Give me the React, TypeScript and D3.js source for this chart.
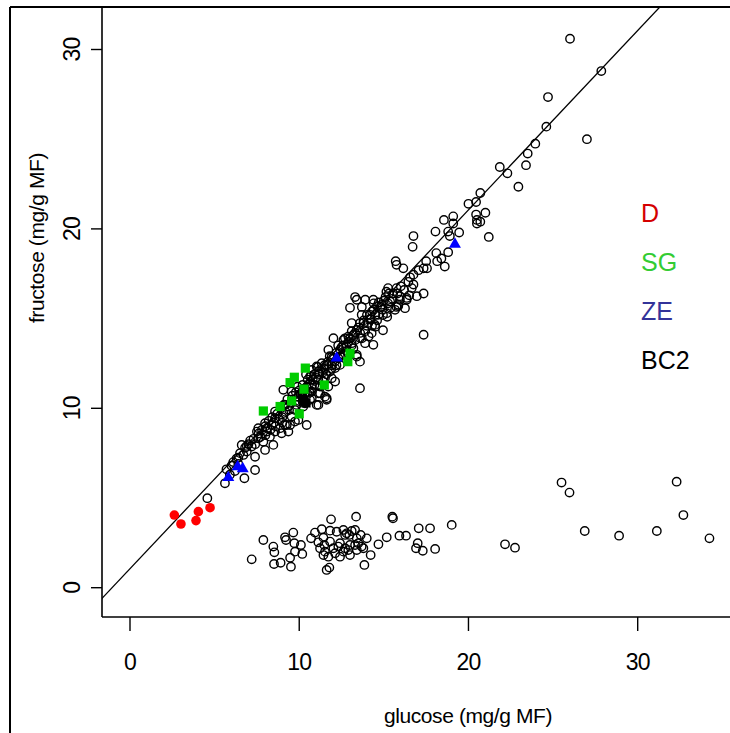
import React from "react";
import * as d3 from "d3";

// glucose, fructose (mg/g MF)
const circlesUpper: [number, number][] = [
  [26.0,30.6],[27.85,28.8],[24.7,27.35],[24.6,25.7],[27.0,25.0],[23.95,24.75],[23.5,24.2],[23.4,23.55],[21.85,23.45],[22.3,23.1],[22.95,22.35],[20.7,22.0],[21.0,20.9],[20.7,20.4],[21.2,19.55],
  [20.0,21.4],[20.45,21.5],[20.45,20.8],[20.5,20.5],[20.5,20.3],[19.1,20.7],[18.55,20.5],[19.1,20.3],[18.05,19.85],[18.8,19.85],[19.45,19.8],[18.9,19.6],[16.75,19.6],[16.7,19.0],[18.8,18.7],[18.4,18.35],[18.1,18.65],[18.15,18.2],[18.6,17.9],[17.5,18.2],[17.35,17.8],[17.55,17.8],[15.7,18.2],[15.75,18.0],[16.15,17.8],[17.05,17.7],[16.75,17.45],[16.55,17.3],[16.45,17.05],[16.75,16.9],[16.65,16.7],[17.35,16.4],[16.95,16.25],[16.35,16.15],[15.95,16.25],[15.75,16.7],[15.25,16.7],[15.15,16.5],[15.55,16.4],[15.95,16.05],[15.75,15.65],[15.25,15.85],[14.8,15.65],[14.4,15.85],[13.9,16.05],[13.7,15.65],[14.4,15.5],[14.95,15.2],[14.0,15.2],[14.2,14.95],[13.8,14.75],[14.5,14.55],[13.9,14.3],[14.1,14.0],[14.95,14.35],[17.35,14.1],[15.85,15.7],
];

const circlesBand: [number, number][] = [
  [13.4,16.05],[14.38,16.05],[14.87,15.77],[15.37,15.95],[15.86,15.77],[15.66,15.49],[15.17,15.3],[14.68,15.21],[14.18,15.21],[13.69,15.21],[13.59,14.75],[14.08,14.75],[14.48,14.65],[13.1,14.75],[13.4,14.37],[14.28,14.19],[13.2,14.09],[12.9,14.0],[13.59,13.91],[13.89,13.63],[14.38,13.54],[12.61,13.81],[13.1,13.63],[12.02,13.91],[12.8,13.44],[12.41,13.26],[12.9,13.07],[11.72,13.26],[11.92,12.88],[12.31,12.79],[13.4,12.88],[13.59,12.6],[11.33,12.51],[11.62,12.42],[11.03,12.33],[10.74,12.14],[11.13,12.05],[11.82,12.05],[12.12,12.24],[12.41,12.42],[10.64,11.77],[11.13,11.58],[11.52,11.68],[11.92,11.68],[12.12,11.49],[11.72,11.21],[10.74,11.3],[10.44,11.21],[10.34,10.84],[10.74,10.93],[11.13,10.84],[11.52,10.65],[11.62,10.47],[11.03,10.19],[10.64,10.47],[9.95,10.65],[9.55,10.93],[9.36,10.1],[9.75,9.91],[10.24,10.1],[9.95,9.35],[10.44,9.07],[9.26,9.07],[13.59,11.12],[13.4,12.98],[16.35,16.05],[16.25,15.58],[13.2,13.35],
  [4.57,4.99],[5.61,5.82],[6.76,6.1],[7.39,6.56],[6.4,7.25],[6.6,7.96],[6.9,7.59],[7.39,7.3],[7.19,7.87],[7.58,8.33],[7.98,7.68],[7.88,8.14],[8.47,7.96],[7.58,8.89],[8.08,8.7],[8.27,8.42],[8.57,8.7],[7.98,9.17],[8.37,9.07],[8.87,8.89],[8.57,9.45],[9.16,9.07],[9.36,8.7],[8.96,8.61],[8.57,9.82],[9.06,9.73],[9.55,9.54],[9.75,9.26],[9.46,9.07],[9.16,10.19],[9.06,11.03],[9.85,10.19],[10.34,10.28],[10.74,10.56],[11.13,10.19],[11.62,10.56],[11.23,10.84],[10.74,11.12],[11.23,11.21],[10.05,10.75],
  [13.3,16.2],[13.0,15.6],
  [9.6,10.7],[9.8,10.9],[10.0,11.0],[10.2,11.3],[10.5,11.6],[10.6,11.4],[10.9,11.9],[11.0,11.7],[11.3,12.2],[11.4,12.0],[11.7,12.6],[11.9,12.4],[12.0,12.8],[12.2,13.1],[12.5,13.4],[12.6,13.0],[12.9,13.7],[13.0,13.9],[13.3,14.2],[13.5,14.5],[13.8,14.9],[14.0,14.6],[14.3,15.4],[14.6,15.7],[15.0,16.0],[15.3,16.4],[8.0,9.0],[8.2,9.3],[8.4,9.5],[8.7,9.7],[8.9,10.0],[9.1,10.2],[9.3,10.5],[9.5,10.3],[7.0,8.0],[7.3,8.3],[7.6,8.6],[7.8,8.8],[6.8,7.8],[6.5,7.5],[10.1,10.8],[10.3,11.1],[10.8,11.6],[11.1,12.3],[11.5,12.4],[11.8,12.9],[12.3,13.5],[12.7,13.9],[13.1,14.3],[9.9,11.2],[10.4,11.9],[6.1,7.0],[6.2,6.5],[5.9,6.3],
  [7.1,8.2],[7.4,8.0],[7.7,8.4],[8.1,8.9],[8.3,8.8],[8.5,9.2],[8.8,9.4],[9.0,9.5],[9.2,9.8],[9.4,9.9],[7.5,8.7],[8.0,8.5],[8.6,9.0],[9.0,9.2],
  [10.0,10.4],[10.2,10.9],[10.5,10.8],[10.7,11.8],[10.9,11.3],[11.2,11.9],[11.5,12.2],[11.6,11.9],[11.9,12.2],[12.1,12.6],[12.4,12.9],[12.6,13.5],[12.8,13.2],[13.1,13.5],[13.3,13.8],[13.6,14.2],[13.7,13.9],[12.2,12.4],[11.4,11.5],[10.6,10.9],
  [14.2,15.0],[14.5,15.2],[14.7,15.9],[14.9,15.5],[15.1,16.2],[15.4,15.6],[15.5,16.1],[15.8,16.4],[16.0,16.8],[16.2,16.6],[16.5,16.3],[14.6,14.9],[14.3,14.6],[15.2,15.1],
  [5.7,6.6],[6.0,6.8],[6.3,7.2],[6.7,7.4],[6.9,7.9],[6.4,6.9],
];

const circlesLow: [number, number][] = [
  [7.19,1.58],[7.88,2.66],[8.47,2.29],[8.53,1.97],[8.51,1.32],[8.9,1.39],[9.51,1.17],[9.46,1.67],[9.16,2.81],[9.22,2.66],[9.65,3.07],[9.71,2.48],[9.75,2.01],[10.1,2.38],[10.18,1.88],[10.7,2.75],[10.93,3.07],[11.33,3.26],[11.13,2.53],[11.43,2.79],[11.88,3.81],[11.82,3.18],[12.21,3.12],[11.48,2.38],[11.82,2.57],[11.52,2.01],[11.43,1.82],[11.72,1.73],[11.78,1.12],[11.62,0.99],[12.02,2.2],[12.31,2.29],[12.41,2.48],[12.61,3.22],[12.8,3.03],[12.96,2.94],[12.71,2.2],[12.61,2.01],[13.0,2.38],[12.9,2.1],[13.36,3.96],[13.3,3.22],[13.4,2.75],[13.3,2.38],[13.4,2.1],[13.49,2.48],[13.63,2.94],[13.69,2.29],[13.79,2.2],[13.99,2.75],[13.85,1.27],[14.22,1.82],[14.68,2.42],[15.17,2.81],[15.5,3.96],[15.54,3.87],[15.92,2.9],[16.31,2.9],[16.9,2.2],[17.0,2.48],[17.3,2.06],[17.06,3.31],[17.73,3.31],[18.03,2.16],[19.01,3.5],[11.23,2.2],[12.12,1.92],[12.41,1.73],[13.0,1.82],[12.71,2.94],[13.1,3.16],
  [25.5,5.86],[25.97,5.3],[22.16,2.42],[22.75,2.23],[26.87,3.16],[28.9,2.9],[31.13,3.16],[32.3,5.91],[32.7,4.05],[34.24,2.75],
];

const pointsD: [number, number][] = [[2.62,4.05],[3.01,3.55],[4.04,4.24],[3.9,3.74],[4.73,4.46]];
const pointsSG: [number, number][] = [[7.88,9.85],[8.87,10.1],[9.55,10.41],[10.0,9.69],[10.28,11.07],[9.46,11.43],[9.71,11.73],[10.36,12.24],[11.48,11.3],[13.0,13.07],[12.87,12.6]];
const pointsZE: [number, number][] = [[5.81,6.19],[6.36,6.8],[6.66,6.69],[12.21,12.85],[19.2,19.2]];
const pointsBC2: [number, number][] = [[10.2,10.5],[10.4,10.3]];

const lineCoef = { intercept: 1.06, slope: 1.0 };
const xTicks = [0, 10, 20, 30];
const yTicks = [0, 10, 20, 30];
const legendItems = [
  { label: "D", color: "#d40000" },
  { label: "SG", color: "#33cc33" },
  { label: "ZE", color: "#333399" },
  { label: "BC2", color: "#000000" },
];

export default function App() {
  const W = 730, H = 733;
  const plotLeft = 102, plotBottom = 617, frameTop = 7, frameLeft = 10;
  const x = d3.scaleLinear().domain([0, 30]).range([130, 637.7]);
  const y = d3.scaleLinear().domain([0, 30]).range([587.7, 49.5]);
  const font = "'Liberation Sans', Arial, Helvetica, sans-serif";
  const allCircles = [...circlesUpper, ...circlesBand, ...circlesLow];
  const lineGen = d3.line<number>().x((d) => x(d)).y((d) => y(lineCoef.intercept + lineCoef.slope * d));
  const tri = d3.symbol().type(d3.symbolTriangle).size(62)();

  return (
    <svg width={W} height={H} style={{ position: "absolute", left: 0, top: 0, background: "#fff" }} fontFamily={font}>
      <defs>
        <clipPath id="plotclip">
          <rect x={plotLeft} y={frameTop} width={W - plotLeft + 10} height={plotBottom - frameTop} />
        </clipPath>
      </defs>
      <rect x={0} y={0} width={W} height={H} fill="#fff" />
      <line x1={frameLeft} y1={frameTop} x2={W + 2} y2={frameTop} stroke="#000" strokeWidth={2} />
      <line x1={frameLeft} y1={frameTop} x2={frameLeft} y2={H + 2} stroke="#000" strokeWidth={2} />
      <line x1={plotLeft} y1={frameTop} x2={plotLeft} y2={plotBottom} stroke="#000" strokeWidth={1.6} />
      <line x1={plotLeft} y1={plotBottom} x2={W + 2} y2={plotBottom} stroke="#000" strokeWidth={1.6} />
      {xTicks.map((t) => (
        <g key={"xt" + t}>
          <line x1={x(t)} x2={x(t)} y1={plotBottom} y2={plotBottom + 14} stroke="#000" strokeWidth={1.4} />
          <text x={x(t)} y={670} fontSize={23} textAnchor="middle" letterSpacing={-0.8}>{t}</text>
        </g>
      ))}
      {yTicks.map((t) => (
        <g key={"yt" + t}>
          <line x1={plotLeft} x2={plotLeft - 11} y1={y(t)} y2={y(t)} stroke="#000" strokeWidth={1.4} />
          <text transform={`translate(80,${y(t)}) rotate(-90)`} fontSize={23} textAnchor="middle" letterSpacing={-0.8}>{t}</text>
        </g>
      ))}
      <text x={468} y={723} fontSize={21} textAnchor="middle" letterSpacing={-0.4}>glucose (mg/g MF)</text>
      <text transform={`translate(44,238) rotate(-90)`} fontSize={21} textAnchor="middle" letterSpacing={-0.4}>fructose (mg/g MF)</text>
      <g clipPath="url(#plotclip)">
        <path d={lineGen([-3, 40]) || ""} fill="none" stroke="#000" strokeWidth={1.3} />
        {allCircles.map((p, i) => (
          <circle key={"c" + i} cx={x(p[0])} cy={y(p[1])} r={4.2} fill="none" stroke="#000" strokeWidth={1.4} />
        ))}
        {pointsD.map((p, i) => (
          <circle key={"d" + i} cx={x(p[0])} cy={y(p[1])} r={4.8} fill="#ff0000" />
        ))}
        {pointsSG.map((p, i) => (
          <rect key={"s" + i} x={x(p[0]) - 4.6} y={y(p[1]) - 4.6} width={9.2} height={9.2} fill="#00cc00" />
        ))}
        {pointsZE.map((p, i) => (
          <path key={"z" + i} d={tri || ""} transform={`translate(${x(p[0])},${y(p[1]) + 1})`} fill="#0000ff" />
        ))}
        {pointsBC2.map((p, i) => (
          <rect key={"b" + i} x={x(p[0]) - 4.6} y={y(p[1]) - 4.6} width={9.2} height={9.2} fill="#000" />
        ))}
      </g>
      {legendItems.map((it, i) => (
        <text key={it.label} x={641} y={222 + i * 49} fontSize={25} fill={it.color}>{it.label}</text>
      ))}
    </svg>
  );
}
